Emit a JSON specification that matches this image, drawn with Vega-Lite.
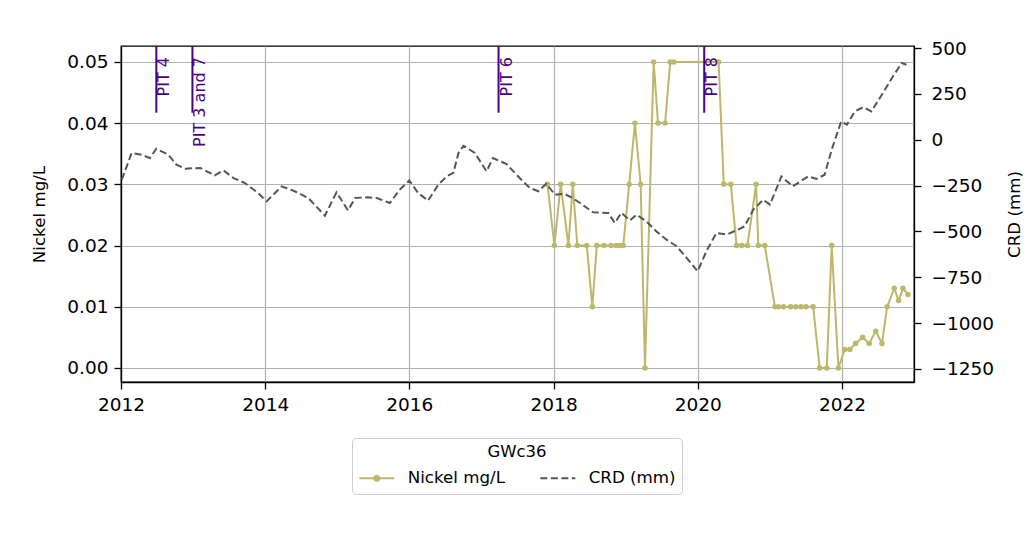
{
  "$schema": "https://vega.github.io/schema/vega-lite/v6.json",
  "width": 793,
  "height": 336,
  "autosize": {"type": "none"},
  "padding": {"left": 121, "top": 46, "right": 118, "bottom": 158},
  "background": "white",
  "config": {
    "font": "DejaVu Sans",
    "view": {"stroke": "black", "strokeWidth": 1.3},
    "axis": {
      "domainColor": "black", "domainWidth": 1.3,
      "tickColor": "black", "tickWidth": 1.3, "tickSize": 7,
      "labelFont": "DejaVu Sans", "labelFontSize": 18.5, "labelColor": "black",
      "titleFont": "DejaVu Sans", "titleFontSize": 16.7, "titleFontWeight": "normal", "titleColor": "black",
      "gridColor": "#b0b0b0", "gridWidth": 1.2
    },
    "legend": {
      "labelFont": "DejaVu Sans", "labelFontSize": 16.7, "labelColor": "black",
      "titleFont": "DejaVu Sans", "titleFontSize": 16.5, "titleFontWeight": "normal", "titleColor": "black"
    }
  },
  "datasets": {
    "nickel": [
      {"date": "2017-12-01", "value": 0.03, "series": "Nickel mg/L"},
      {"date": "2018-01-05", "value": 0.02, "series": "Nickel mg/L"},
      {"date": "2018-02-06", "value": 0.03, "series": "Nickel mg/L"},
      {"date": "2018-03-17", "value": 0.02, "series": "Nickel mg/L"},
      {"date": "2018-04-08", "value": 0.03, "series": "Nickel mg/L"},
      {"date": "2018-05-01", "value": 0.02, "series": "Nickel mg/L"},
      {"date": "2018-06-18", "value": 0.02, "series": "Nickel mg/L"},
      {"date": "2018-07-16", "value": 0.01, "series": "Nickel mg/L"},
      {"date": "2018-08-08", "value": 0.02, "series": "Nickel mg/L"},
      {"date": "2018-09-13", "value": 0.02, "series": "Nickel mg/L"},
      {"date": "2018-10-19", "value": 0.02, "series": "Nickel mg/L"},
      {"date": "2018-11-14", "value": 0.02, "series": "Nickel mg/L"},
      {"date": "2018-12-02", "value": 0.02, "series": "Nickel mg/L"},
      {"date": "2018-12-20", "value": 0.02, "series": "Nickel mg/L"},
      {"date": "2019-01-19", "value": 0.03, "series": "Nickel mg/L"},
      {"date": "2019-02-17", "value": 0.04, "series": "Nickel mg/L"},
      {"date": "2019-03-18", "value": 0.03, "series": "Nickel mg/L"},
      {"date": "2019-04-09", "value": 0.0, "series": "Nickel mg/L"},
      {"date": "2019-05-23", "value": 0.05, "series": "Nickel mg/L"},
      {"date": "2019-06-14", "value": 0.04, "series": "Nickel mg/L"},
      {"date": "2019-07-20", "value": 0.04, "series": "Nickel mg/L"},
      {"date": "2019-08-15", "value": 0.05, "series": "Nickel mg/L"},
      {"date": "2019-09-02", "value": 0.05, "series": "Nickel mg/L"},
      {"date": "2020-04-16", "value": 0.05, "series": "Nickel mg/L"},
      {"date": "2020-05-12", "value": 0.03, "series": "Nickel mg/L"},
      {"date": "2020-06-17", "value": 0.03, "series": "Nickel mg/L"},
      {"date": "2020-07-16", "value": 0.02, "series": "Nickel mg/L"},
      {"date": "2020-08-11", "value": 0.02, "series": "Nickel mg/L"},
      {"date": "2020-09-09", "value": 0.02, "series": "Nickel mg/L"},
      {"date": "2020-10-23", "value": 0.03, "series": "Nickel mg/L"},
      {"date": "2020-11-03", "value": 0.02, "series": "Nickel mg/L"},
      {"date": "2020-12-06", "value": 0.02, "series": "Nickel mg/L"},
      {"date": "2021-01-26", "value": 0.01, "series": "Nickel mg/L"},
      {"date": "2021-02-13", "value": 0.01, "series": "Nickel mg/L"},
      {"date": "2021-03-11", "value": 0.01, "series": "Nickel mg/L"},
      {"date": "2021-04-16", "value": 0.01, "series": "Nickel mg/L"},
      {"date": "2021-05-12", "value": 0.01, "series": "Nickel mg/L"},
      {"date": "2021-06-07", "value": 0.01, "series": "Nickel mg/L"},
      {"date": "2021-07-02", "value": 0.01, "series": "Nickel mg/L"},
      {"date": "2021-08-08", "value": 0.01, "series": "Nickel mg/L"},
      {"date": "2021-09-10", "value": 0.0, "series": "Nickel mg/L"},
      {"date": "2021-10-16", "value": 0.0, "series": "Nickel mg/L"},
      {"date": "2021-11-10", "value": 0.02, "series": "Nickel mg/L"},
      {"date": "2021-12-14", "value": 0.0, "series": "Nickel mg/L"},
      {"date": "2022-01-15", "value": 0.003, "series": "Nickel mg/L"},
      {"date": "2022-02-10", "value": 0.003, "series": "Nickel mg/L"},
      {"date": "2022-03-11", "value": 0.004, "series": "Nickel mg/L"},
      {"date": "2022-04-16", "value": 0.005, "series": "Nickel mg/L"},
      {"date": "2022-05-19", "value": 0.004, "series": "Nickel mg/L"},
      {"date": "2022-06-21", "value": 0.006, "series": "Nickel mg/L"},
      {"date": "2022-07-23", "value": 0.004, "series": "Nickel mg/L"},
      {"date": "2022-08-18", "value": 0.010, "series": "Nickel mg/L"},
      {"date": "2022-09-23", "value": 0.013, "series": "Nickel mg/L"},
      {"date": "2022-10-15", "value": 0.011, "series": "Nickel mg/L"},
      {"date": "2022-11-06", "value": 0.013, "series": "Nickel mg/L"},
      {"date": "2022-12-02", "value": 0.012, "series": "Nickel mg/L"}
    ],
    "crd": [
      {"date": "2012-01-05", "value": -218, "series": "CRD (mm)"},
      {"date": "2012-02-24", "value": -72, "series": "CRD (mm)"},
      {"date": "2012-04-15", "value": -82, "series": "CRD (mm)"},
      {"date": "2012-05-26", "value": -100, "series": "CRD (mm)"},
      {"date": "2012-06-28", "value": -49, "series": "CRD (mm)"},
      {"date": "2012-08-28", "value": -82, "series": "CRD (mm)"},
      {"date": "2012-10-08", "value": -136, "series": "CRD (mm)"},
      {"date": "2012-11-21", "value": -158, "series": "CRD (mm)"},
      {"date": "2013-02-06", "value": -154, "series": "CRD (mm)"},
      {"date": "2013-03-10", "value": -172, "series": "CRD (mm)"},
      {"date": "2013-04-20", "value": -194, "series": "CRD (mm)"},
      {"date": "2013-06-03", "value": -167, "series": "CRD (mm)"},
      {"date": "2013-07-24", "value": -209, "series": "CRD (mm)"},
      {"date": "2013-09-20", "value": -236, "series": "CRD (mm)"},
      {"date": "2013-10-23", "value": -263, "series": "CRD (mm)"},
      {"date": "2013-11-25", "value": -290, "series": "CRD (mm)"},
      {"date": "2014-01-08", "value": -336, "series": "CRD (mm)"},
      {"date": "2014-03-25", "value": -254, "series": "CRD (mm)"},
      {"date": "2014-05-30", "value": -281, "series": "CRD (mm)"},
      {"date": "2014-08-07", "value": -318, "series": "CRD (mm)"},
      {"date": "2014-10-30", "value": -414, "series": "CRD (mm)"},
      {"date": "2014-12-28", "value": -287, "series": "CRD (mm)"},
      {"date": "2015-02-24", "value": -385, "series": "CRD (mm)"},
      {"date": "2015-04-01", "value": -318, "series": "CRD (mm)"},
      {"date": "2015-05-30", "value": -314, "series": "CRD (mm)"},
      {"date": "2015-07-20", "value": -318, "series": "CRD (mm)"},
      {"date": "2015-09-24", "value": -345, "series": "CRD (mm)"},
      {"date": "2015-11-14", "value": -272, "series": "CRD (mm)"},
      {"date": "2016-01-01", "value": -222, "series": "CRD (mm)"},
      {"date": "2016-02-14", "value": -290, "series": "CRD (mm)"},
      {"date": "2016-04-05", "value": -332, "series": "CRD (mm)"},
      {"date": "2016-05-27", "value": -245, "series": "CRD (mm)"},
      {"date": "2016-07-08", "value": -200, "series": "CRD (mm)"},
      {"date": "2016-08-11", "value": -181, "series": "CRD (mm)"},
      {"date": "2016-09-06", "value": -72, "series": "CRD (mm)"},
      {"date": "2016-10-01", "value": -33, "series": "CRD (mm)"},
      {"date": "2016-11-28", "value": -72, "series": "CRD (mm)"},
      {"date": "2017-01-26", "value": -172, "series": "CRD (mm)"},
      {"date": "2017-02-28", "value": -100, "series": "CRD (mm)"},
      {"date": "2017-05-08", "value": -133, "series": "CRD (mm)"},
      {"date": "2017-07-13", "value": -209, "series": "CRD (mm)"},
      {"date": "2017-09-02", "value": -263, "series": "CRD (mm)"},
      {"date": "2017-10-16", "value": -281, "series": "CRD (mm)"},
      {"date": "2017-11-25", "value": -240, "series": "CRD (mm)"},
      {"date": "2018-01-08", "value": -300, "series": "CRD (mm)"},
      {"date": "2018-02-24", "value": -295, "series": "CRD (mm)"},
      {"date": "2018-04-08", "value": -318, "series": "CRD (mm)"},
      {"date": "2018-05-15", "value": -345, "series": "CRD (mm)"},
      {"date": "2018-07-20", "value": -396, "series": "CRD (mm)"},
      {"date": "2018-10-05", "value": -399, "series": "CRD (mm)"},
      {"date": "2018-11-07", "value": -454, "series": "CRD (mm)"},
      {"date": "2018-12-10", "value": -399, "series": "CRD (mm)"},
      {"date": "2019-01-23", "value": -440, "series": "CRD (mm)"},
      {"date": "2019-02-25", "value": -409, "series": "CRD (mm)"},
      {"date": "2019-04-16", "value": -445, "series": "CRD (mm)"},
      {"date": "2019-06-06", "value": -500, "series": "CRD (mm)"},
      {"date": "2019-07-27", "value": -545, "series": "CRD (mm)"},
      {"date": "2019-09-16", "value": -581, "series": "CRD (mm)"},
      {"date": "2019-11-06", "value": -644, "series": "CRD (mm)"},
      {"date": "2020-01-01", "value": -717, "series": "CRD (mm)"},
      {"date": "2020-02-14", "value": -608, "series": "CRD (mm)"},
      {"date": "2020-04-05", "value": -508, "series": "CRD (mm)"},
      {"date": "2020-05-27", "value": -517, "series": "CRD (mm)"},
      {"date": "2020-07-24", "value": -490, "series": "CRD (mm)"},
      {"date": "2020-08-26", "value": -472, "series": "CRD (mm)"},
      {"date": "2020-10-09", "value": -381, "series": "CRD (mm)"},
      {"date": "2020-11-28", "value": -327, "series": "CRD (mm)"},
      {"date": "2021-01-01", "value": -354, "series": "CRD (mm)"},
      {"date": "2021-02-28", "value": -200, "series": "CRD (mm)"},
      {"date": "2021-04-27", "value": -254, "series": "CRD (mm)"},
      {"date": "2021-07-13", "value": -200, "series": "CRD (mm)"},
      {"date": "2021-08-25", "value": -214, "series": "CRD (mm)"},
      {"date": "2021-10-05", "value": -191, "series": "CRD (mm)"},
      {"date": "2021-11-10", "value": -54, "series": "CRD (mm)"},
      {"date": "2021-12-28", "value": 100, "series": "CRD (mm)"},
      {"date": "2022-01-26", "value": 82, "series": "CRD (mm)"},
      {"date": "2022-03-07", "value": 154, "series": "CRD (mm)"},
      {"date": "2022-04-20", "value": 178, "series": "CRD (mm)"},
      {"date": "2022-05-30", "value": 154, "series": "CRD (mm)"},
      {"date": "2022-07-27", "value": 254, "series": "CRD (mm)"},
      {"date": "2022-09-16", "value": 345, "series": "CRD (mm)"},
      {"date": "2022-10-31", "value": 418, "series": "CRD (mm)"},
      {"date": "2022-11-24", "value": 409, "series": "CRD (mm)"}
    ],
    "pits": [
      {"date": "2012-06-28", "label": "PIT 4"},
      {"date": "2012-12-28", "label": "PIT 3 and 7"},
      {"date": "2017-03-28", "label": "PIT 6"},
      {"date": "2020-02-03", "label": "PIT 8"}
    ]
  },
  "encoding": {
    "x": {
      "field": "date", "type": "temporal",
      "scale": {"type": "utc", "domain": [{"year": 2012, "month": 1, "date": 1, "utc": true}, {"year": 2023, "month": 1, "date": 1, "utc": true}]},
      "axis": {
        "title": null, "format": "%Y", "labelPadding": 6, "grid": true, "labelFlush": false,
        "values": [
          {"year": 2012, "month": 1, "date": 1, "utc": true},
          {"year": 2014, "month": 1, "date": 1, "utc": true},
          {"year": 2016, "month": 1, "date": 1, "utc": true},
          {"year": 2018, "month": 1, "date": 1, "utc": true},
          {"year": 2020, "month": 1, "date": 1, "utc": true},
          {"year": 2022, "month": 1, "date": 1, "utc": true}
        ]
      }
    }
  },
  "layer": [
    {
      "layer": [
        {
          "data": {"name": "nickel"},
          "mark": {"type": "line", "strokeWidth": 2, "point": {"filled": true, "size": 30}},
          "encoding": {
            "y": {
              "field": "value", "type": "quantitative",
              "scale": {"domain": [-0.0023, 0.0526], "nice": false, "zero": false},
              "axis": {"title": "Nickel mg/L", "orient": "left", "format": ".2f", "values": [0, 0.01, 0.02, 0.03, 0.04, 0.05], "grid": true, "labelPadding": 6, "titlePadding": 18}
            },
            "color": {
              "field": "series", "type": "nominal",
              "scale": {"domain": ["Nickel mg/L", "CRD (mm)"], "range": ["#bdb76b", "#555555"]},
              "legend": {"title": "GWc36", "orient": "none", "legendX": 231, "legendY": 392, "direction": "horizontal", "columns": 2, "symbolSize": 196, "symbolStrokeWidth": 2, "labelOffset": 33, "columnPadding": 30, "padding": 6, "titlePadding": 9, "titleAnchor": "middle", "fillColor": "white", "strokeColor": "#cccccc", "cornerRadius": 4,
                "encode": {"symbols": {"update": {
                  "shape": {"signal": "datum.value === 'Nickel mg/L' ? 'M-1,0H4M1.86,0A0.36,0.36,0,1,1,1.14,0A0.36,0.36,0,1,1,1.86,0Z' : 'M-1,0H4'"},
                  "fill": {"signal": "datum.value === 'Nickel mg/L' ? '#bdb76b' : 'transparent'"}
                }}}}
            },
            "strokeDash": {
              "field": "series", "type": "nominal",
              "scale": {"domain": ["Nickel mg/L", "CRD (mm)"], "range": [[1, 0], [7, 3.5]]},
              "legend": {"title": "GWc36", "orient": "none", "legendX": 231, "legendY": 392, "direction": "horizontal", "columns": 2, "symbolSize": 196, "symbolStrokeWidth": 2, "labelOffset": 33, "columnPadding": 30, "padding": 6, "titlePadding": 9, "titleAnchor": "middle", "fillColor": "white", "strokeColor": "#cccccc", "cornerRadius": 4,
                "encode": {"symbols": {"update": {
                  "shape": {"signal": "datum.value === 'Nickel mg/L' ? 'M-1,0H4M1.86,0A0.36,0.36,0,1,1,1.14,0A0.36,0.36,0,1,1,1.86,0Z' : 'M-1,0H4'"},
                  "fill": {"signal": "datum.value === 'Nickel mg/L' ? '#bdb76b' : 'transparent'"}
                }}}}
            }
          }
        },
        {
          "data": {"name": "pits"},
          "mark": {"type": "rule", "color": "#4b0082", "strokeWidth": 2},
          "encoding": {
            "y": {"datum": 0.0526},
            "y2": {"datum": 0.0417}
          }
        },
        {
          "data": {"name": "pits"},
          "mark": {"type": "text", "angle": 270, "align": "right", "baseline": "top", "fontSize": 16, "color": "#4b0082", "font": "DejaVu Sans"},
          "encoding": {
            "y": {"datum": 0.0508},
            "text": {"field": "label", "type": "nominal"}
          }
        }
      ]
    },
    {
      "data": {"name": "crd"},
      "mark": {"type": "line", "strokeWidth": 2},
      "encoding": {
        "y": {
          "field": "value", "type": "quantitative",
          "scale": {"domain": [-1321, 511], "nice": false, "zero": false},
          "axis": {"title": "CRD (mm)", "orient": "right", "grid": false, "values": [-1250, -1000, -750, -500, -250, 0, 250, 500], "format": "d", "labelPadding": 10, "titlePadding": 13, "titleAngle": 270, "titleBaseline": "top"}
        },
        "color": {"field": "series", "type": "nominal"},
        "strokeDash": {"field": "series", "type": "nominal"}
      }
    }
  ],
  "resolve": {"scale": {"y": "independent"}, "axis": {"y": "independent"}}
}
